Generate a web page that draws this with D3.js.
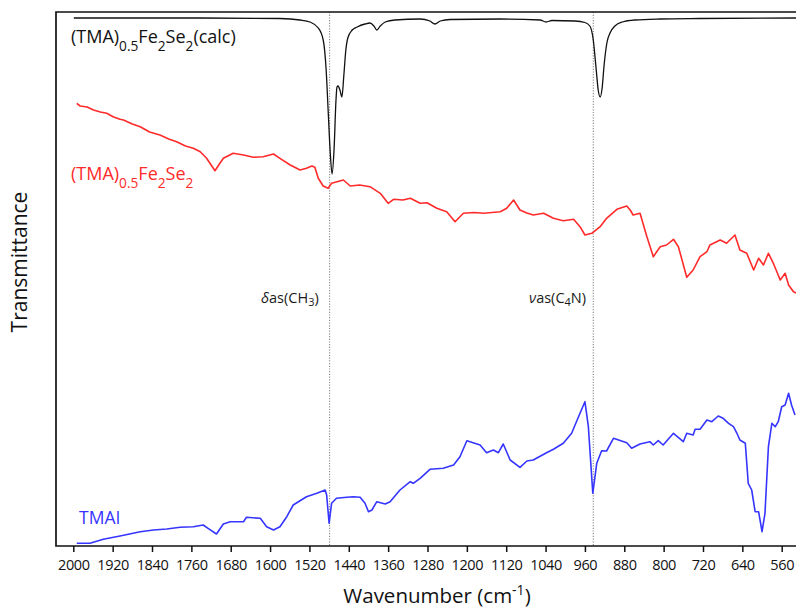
<!DOCTYPE html>
<html>
<head>
<meta charset="utf-8">
<script src="https://cdn.jsdelivr.net/npm/d3@7"></script>
<style>
  html, body { margin: 0; padding: 0; background: #fff; }
  svg { display: block; font-family: "Open Sans", "Noto Sans", sans-serif; }
</style>
</head>
<body>
<svg id="chart" width="796" height="610"></svg>
<script>
// Wavenumber (cm^-1) and transmittance (arbitrary offset units)
const calcWn = [1999,1946,1742,1580,1539,1519,1502,1492,1486,1482,1478,1474,1470,1466,1464,1462,1458,1454,1450,1446,1442,1433,1423,1407,1397,1389,1383,1376,1366,1346,1295,1275,1265,1254,1234,1132,1051,1039,1027,980,960,950,943,937,933,929,925,921,915,909,899,884,858,807,726,531];
const calcT  = [528,528,528,527.5,526,524,518,506,476,436,396,372,396,446,459,460,456,449,471,496,508,516,519,522,523,520,516,520,524,526,527,525,522,525,526.5,527,526,524,525.5,525,523.5,520,506,476,456,449,458,481,504,513,520,524,526,527,527.5,528];

const tmaWn = [1993,1986,1972,1959,1945,1932,1918,1905,1898,1880,1864,1845,1824,1806,1790,1772,1756,1742,1729,1712,1702,1695,1675,1654,1634,1614,1593,1580,1559,1539,1526,1515,1509,1502,1492,1482,1475,1451,1437,1418,1397,1376,1360,1349,1330,1315,1295,1281,1261,1241,1224,1207,1186,1166,1132,1119,1105,1092,1078,1065,1044,1024,1004,983,970,960,946,929,916,895,875,868,862,848,834,821,807,794,780,770,753,740,726,712,706,685,672,655,645,631,617,607,597,587,577,563,553,546,536,531];
const tmaT  = [442.7,440,439,436,434,432.7,429,426.7,426,422,419.3,414,411,407,404.3,400,397.7,394.3,387.7,375.3,382.7,387.7,392.7,391,388.7,389.3,392,387.7,381,376,377.7,380,378.7,367.7,360,357.7,362.7,366,360,361,359.3,352.7,342.7,346.7,346,347.7,342.7,343.3,337.7,334.3,324.3,332.7,333.5,332.7,334.3,337.7,346,336,333,331,332.7,327.7,325.3,326.7,319.3,311,312.7,319.3,327.7,336.7,340,336,331,332.7,309.3,289.3,299.3,301,306.7,299.3,268.7,276,289.3,294.3,301,306,302.7,311,296,292.7,276,287.7,281,292.7,282.7,266,272.7,261,254.3,253];

const tmaiWn = [1993,1966,1939,1905,1864,1837,1810,1783,1756,1736,1726,1709,1695,1681,1654,1648,1620,1607,1593,1580,1566,1553,1526,1505,1488,1485,1480,1475,1465,1444,1431,1417,1407,1400,1393,1383,1366,1356,1336,1315,1309,1295,1275,1248,1227,1214,1200,1173,1160,1146,1136,1126,1112,1092,1078,1065,1038,1024,1004,987,970,960,953,944,936,926,916,902,875,865,848,828,821,811,801,780,760,753,740,736,726,712,702,689,679,668,658,651,645,634,628,621,614,607,600,594,587,580,573,567,560,553,546,540,533];
const tmaiT  = [2.7,2.7,6.7,10,14.3,16,17,18.7,19.3,21,17.7,12,22,24.3,24.3,28.7,27.7,19.3,16,19.3,29.3,41,49.3,52.7,56,51,22.7,42.7,47.7,48.7,49.3,48.7,42.7,34.3,36,44.3,42,44.3,56,64.3,62.7,67.7,76.7,77.7,81,89.3,105.3,101,93.3,96,93.3,102,86,78.7,85,86,93.3,96.7,102.7,112.7,132.7,144.3,119.3,52.7,82.7,95.3,95,107.7,103.3,97.7,102,104.3,101,105.3,101,112.7,104.3,112.7,111,116.7,116.7,126,124.3,130,127.7,122.7,119.3,112.7,106,102.7,62.7,56,34.3,34.3,14.3,32.7,99.3,122.7,119.3,124.3,139.3,141,152.7,141,131];

const tickValues = [2000,1920,1840,1760,1680,1600,1520,1440,1360,1280,1200,1120,1040,960,880,800,720,640,560];
const markerWn = [1479, 943];

const svg = d3.select("#chart");
const x = d3.scaleLinear().domain([2000, 560]).range([73.3, 781.7]);
const y = d3.scaleLinear().domain([0, 534]).range([546, 12]);
const pL = 56, pT = 12, pB = 546, pR = 830;

// dotted marker lines
svg.selectAll("line.marker").data(markerWn).join("line")
  .attr("class", "marker")
  .attr("x1", d => x(d)).attr("x2", d => x(d))
  .attr("y1", pT).attr("y2", pB)
  .attr("stroke", "#888").attr("stroke-width", 1.1)
  .attr("stroke-dasharray", "1.2,1.5");

// lines
const mk = (wn, t) => wn.map((w, i) => [w, t[i]]);
const lineSmooth = d3.line().x(d => x(d[0])).y(d => y(d[1])).curve(d3.curveMonotoneX);
const lineLin = d3.line().x(d => x(d[0])).y(d => y(d[1])).curve(d3.curveLinear);

svg.append("path").datum(mk(calcWn, calcT)).attr("d", lineSmooth)
  .attr("fill", "none").attr("stroke", "#111").attr("stroke-width", 1.3);
svg.append("path").datum(mk(tmaWn, tmaT)).attr("d", lineLin)
  .attr("fill", "none").attr("stroke", "#ff2a2a").attr("stroke-width", 1.6)
  .attr("stroke-linejoin", "round");
svg.append("path").datum(mk(tmaiWn, tmaiT)).attr("d", lineLin)
  .attr("fill", "none").attr("stroke", "#3535ff").attr("stroke-width", 1.6)
  .attr("stroke-linejoin", "round");

// frame
svg.append("path")
  .attr("d", `M${pR},${pT}H${pL}V${pB}H${pR}`)
  .attr("fill", "none").attr("stroke", "#111").attr("stroke-width", 1.7);

// x axis ticks
const axis = d3.axisBottom(x).tickValues(tickValues).tickSize(6).tickSizeOuter(0).tickFormat(d3.format("d"));
const gx = svg.append("g").attr("transform", `translate(0,${pB})`).call(axis);
gx.select(".domain").remove();
gx.selectAll(".tick line").attr("stroke", "#111").attr("stroke-width", 1.5);
gx.selectAll(".tick text").attr("font-size", 14.5).attr("fill", "#111")
  .attr("font-family", "'Open Sans', sans-serif").attr("dy", "1.0em")
  .attr("letter-spacing", "-0.4");

// axis titles
const xt = svg.append("text").attr("x", 437).attr("y", 603).attr("text-anchor", "middle")
  .attr("font-size", 20.5).attr("fill", "#111");
xt.append("tspan").text("Wavenumber (cm");
xt.append("tspan").text("-1").attr("font-size", 14).attr("dy", -8);
xt.append("tspan").text(")").attr("dy", 8);

svg.append("text").attr("transform", "translate(27,262) rotate(-90)")
  .attr("text-anchor", "middle").attr("font-size", 21).attr("fill", "#111")
  .text("Transmittance");

// series labels
function formula(xp, yp, color, parts, fs) {
  const t = svg.append("text").attr("x", xp).attr("y", yp).attr("fill", color).attr("font-size", fs);
  let shifted = false;
  parts.forEach(p => {
    const sub = p.sub;
    const ts = t.append("tspan").text(p.t);
    if (sub && !shifted) { ts.attr("font-size", fs * 0.76).attr("dy", 8); shifted = true; }
    else if (!sub && shifted) { ts.attr("dy", -8); shifted = false; }
    else if (sub) ts.attr("font-size", fs * 0.76);
  });
  return t;
}
formula(71, 43, "#111", [{t:"(TMA)"},{t:"0.5",sub:true},{t:"Fe"},{t:"2",sub:true},{t:"Se"},{t:"2",sub:true},{t:"(calc)"}], 18);
formula(71, 180, "#ff2a2a", [{t:"(TMA)"},{t:"0.5",sub:true},{t:"Fe"},{t:"2",sub:true},{t:"Se"},{t:"2",sub:true}], 18);
svg.append("text").attr("x", 79).attr("y", 524).attr("fill", "#3535ff").attr("font-size", 17.5).text("TMAI");

// band annotations
const a1 = svg.append("text").attr("x", 261).attr("y", 303).attr("font-size", 14.5).attr("fill", "#1a1a1a");
a1.append("tspan").text("δ").attr("font-style", "italic");
a1.append("tspan").text("as(CH");
a1.append("tspan").text("3").attr("font-size", 11).attr("dy", 3);
a1.append("tspan").text(")").attr("dy", -3);

const a2 = svg.append("text").attr("x", 529).attr("y", 303).attr("font-size", 14.5).attr("fill", "#1a1a1a");
a2.append("tspan").text("ν").attr("font-style", "italic");
a2.append("tspan").text("as(C");
a2.append("tspan").text("4").attr("font-size", 11).attr("dy", 3);
a2.append("tspan").text("N)").attr("dy", -3);
</script>
</body>
</html>
